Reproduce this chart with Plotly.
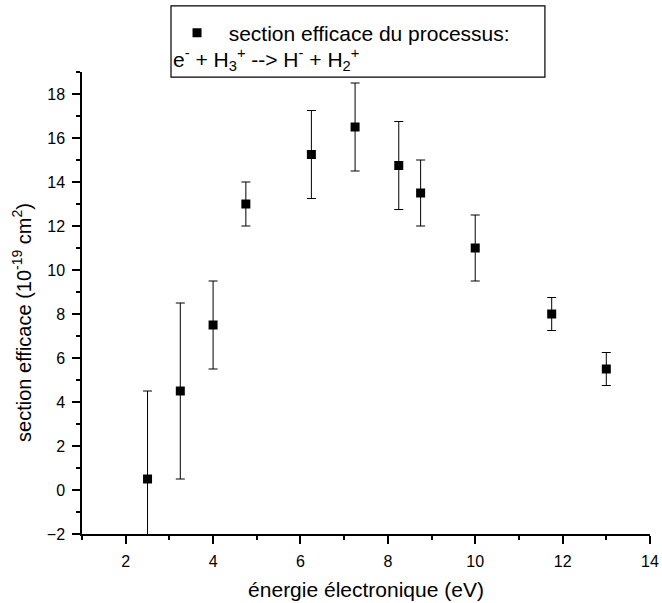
import plotly.graph_objects as go

energie = [2.5, 3.25, 4.0, 4.75, 6.25, 7.25, 8.25, 8.75, 10.0, 11.75, 13.0]
section = [0.5, 4.5, 7.5, 13.0, 15.25, 16.5, 14.75, 13.5, 11.0, 8.0, 5.5]
erreur = [4.0, 4.0, 2.0, 1.0, 2.0, 2.0, 2.0, 1.5, 1.5, 0.75, 0.75]

FONT = "Liberation Sans, Arial, sans-serif"

fig = go.Figure()
fig.add_trace(go.Scatter(
    x=energie, y=section, mode="markers",
    name="&nbsp;&nbsp;section efficace du processus:",
    marker=dict(symbol="square", size=9, color="black"),
    error_y=dict(type="data", array=erreur, visible=True, color="black",
                 thickness=1, width=4.5),
))

axis_common = dict(
    showline=True, linecolor="black", linewidth=1.5, mirror=False,
    ticks="outside", ticklen=8, tickwidth=1.5, tickcolor="black",
    showgrid=False, zeroline=False, ticklabelstandoff=4,
    tickfont=dict(family=FONT, size=16, color="black"),
    minor=dict(ticks="outside", ticklen=4, tickwidth=1.5, tickcolor="black", dtick=1),
)

fig.update_layout(
    width=662, height=603,
    margin=dict(l=82, r=12, t=72, b=69, autoexpand=False),
    paper_bgcolor="white", plot_bgcolor="white",
    font=dict(family=FONT, size=20, color="black"),
    xaxis=dict(range=[1, 14], dtick=2, tick0=0,
               title=dict(text="énergie électronique (eV)", font=dict(size=21), standoff=13),
               **axis_common),
    yaxis=dict(range=[-2, 19], dtick=2, tick0=0,
               title=dict(text="section efficace (10<sup>-19</sup> cm<sup>2</sup>)" + "&nbsp;" * 7,
                          font=dict(size=20), standoff=10),
               **axis_common),
    showlegend=True,
    legend=dict(x=0.1673, y=1.0844, xanchor="left", yanchor="middle",
                bgcolor="rgba(0,0,0,0)", borderwidth=0,
                font=dict(family=FONT, size=21)),
)

fig.add_shape(type="rect", xref="paper", yref="paper",
              x0=0.1567, x1=0.815, y0=0.989, y1=1.143,
              line=dict(color="black", width=1.2), fillcolor="rgba(0,0,0,0)")

fig.add_annotation(xref="paper", yref="paper", x=0.1567, y=1.026,
                   xanchor="left", yanchor="middle", showarrow=False,
                   text="e<sup>-</sup> + H<sub>3</sub><sup>+</sup> --> H<sup>-</sup> + H<sub>2</sub><sup>+</sup>",
                   font=dict(family=FONT, size=21, color="black"))

# remove the browser's default 8 px body margin so the figure fills the window exactly
fig.write_html("out.html",
               config={"displayModeBar": False},
               post_script="document.body.style.margin='0';document.body.style.overflow='hidden';")
